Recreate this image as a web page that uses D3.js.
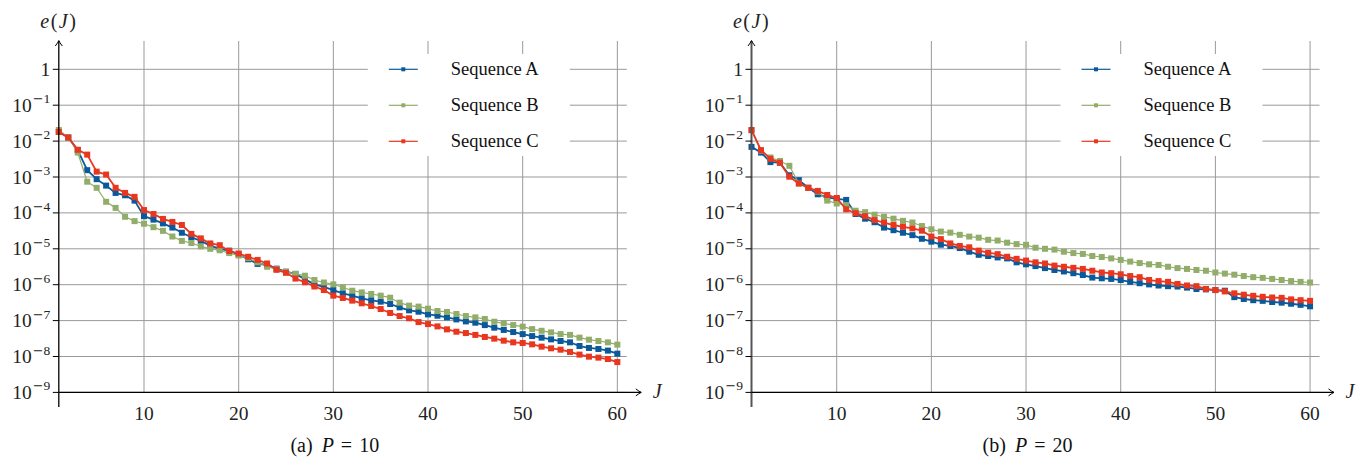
<!DOCTYPE html>
<html>
<head>
<meta charset="utf-8">
<script src="https://cdn.jsdelivr.net/npm/d3@7"></script>
<style>
  html, body { margin: 0; padding: 0; background: #fff; }
  svg { display: block; }
</style>
</head>
<body>
<svg id="chart" width="1365" height="459"></svg>
<script>
// ---------------- data ----------------
const xTicks = [10, 20, 30, 40, 50, 60];
const yTickExps = [0, -1, -2, -3, -4, -5, -6, -7, -8, -9];
const seriesNames = ["Sequence A", "Sequence B", "Sequence C"];
const seriesColors = ["#0a5a9b", "#92ad6a", "#e8361f"];
const captions = [["(a)", "P", "=", "10"], ["(b)", "P", "=", "20"]];

// P = 10
const leftA = [1.8e-2, 1.26e-2, 5.6e-3, 1.55e-3, 8.7e-4, 5.75e-4, 3.6e-4, 3.1e-4, 2.2e-4, 8.1e-5,
  6.5e-5, 5.1e-5, 3.9e-5, 2.8e-5, 2.1e-5, 1.66e-5, 1.23e-5, 1.0e-5, 8.9e-6, 6.9e-6,
  5.1e-6, 3.8e-6, 3.6e-6, 2.8e-6, 2.3e-6, 2.0e-6, 1.41e-6, 1.02e-6, 8.7e-7, 7.1e-7,
  5.75e-7, 4.95e-7, 4.17e-7, 3.67e-7, 3.37e-7, 2.9e-7, 2.34e-7, 1.93e-7, 1.77e-7, 1.49e-7,
  1.37e-7, 1.23e-7, 1.08e-7, 9.5e-8, 8.75e-8, 7.5e-8, 6.35e-8, 5.5e-8, 4.8e-8, 4.2e-8,
  3.7e-8, 3.35e-8, 3.0e-8, 2.7e-8, 2.48e-8, 1.96e-8, 1.73e-8, 1.62e-8, 1.46e-8, 1.2e-8];
const leftB = [2.04e-2, 1.26e-2, 4.8e-3, 7.4e-4, 5.0e-4, 2.04e-4, 1.38e-4, 7.8e-5, 5.9e-5, 5.0e-5,
  4.0e-5, 3.16e-5, 2.2e-5, 1.66e-5, 1.45e-5, 1.17e-5, 1.0e-5, 9.1e-6, 7.6e-6, 6.5e-6,
  5.5e-6, 4.2e-6, 3.16e-6, 2.7e-6, 2.3e-6, 2.0e-6, 1.78e-6, 1.35e-6, 1.15e-6, 1.02e-6,
  8.5e-7, 6.8e-7, 6.1e-7, 5.5e-7, 4.95e-7, 4.35e-7, 3.16e-7, 2.61e-7, 2.45e-7, 2.15e-7,
  1.85e-7, 1.74e-7, 1.53e-7, 1.34e-7, 1.23e-7, 1.11e-7, 9.3e-8, 8.4e-8, 7.5e-8, 6.8e-8,
  5.8e-8, 5.2e-8, 4.7e-8, 4.2e-8, 4.0e-8, 3.35e-8, 2.94e-8, 2.7e-8, 2.48e-8, 2.14e-8];
const leftC = [1.8e-2, 1.26e-2, 5.75e-3, 4.2e-3, 1.41e-3, 1.17e-3, 5.0e-4, 3.6e-4, 2.8e-4, 1.2e-4,
  9.3e-5, 6.8e-5, 5.6e-5, 4.6e-5, 2.6e-5, 1.95e-5, 1.41e-5, 1.26e-5, 8.7e-6, 7.4e-6,
  6.0e-6, 4.9e-6, 3.9e-6, 2.6e-6, 2.14e-6, 1.48e-6, 1.17e-6, 8.9e-7, 7.1e-7, 4.95e-7,
  4.27e-7, 3.6e-7, 3.03e-7, 2.55e-7, 2.1e-7, 1.63e-7, 1.34e-7, 1.16e-7, 9.1e-8, 8.0e-8,
  6.9e-8, 5.7e-8, 4.9e-8, 4.5e-8, 4.0e-8, 3.5e-8, 3.14e-8, 2.76e-8, 2.48e-8, 2.38e-8,
  2.18e-8, 1.88e-8, 1.69e-8, 1.55e-8, 1.34e-8, 1.13e-8, 9.9e-9, 9.3e-9, 8.5e-9, 7.0e-9];

// P = 20
const rightA = [6.9e-3, 4.8e-3, 2.6e-3, 2.5e-3, 1.12e-3, 8.2e-4, 5.0e-4, 3.3e-4, 2.7e-4, 2.46e-4,
  2.3e-4, 9.3e-5, 6.9e-5, 5.5e-5, 3.9e-5, 3.3e-5, 2.8e-5, 2.4e-5, 1.9e-5, 1.58e-5,
  1.3e-5, 1.2e-5, 1.05e-5, 8.3e-6, 6.8e-6, 6.3e-6, 5.75e-6, 5.4e-6, 4.2e-6, 3.7e-6,
  3.3e-6, 2.9e-6, 2.57e-6, 2.34e-6, 2.09e-6, 1.86e-6, 1.58e-6, 1.51e-6, 1.45e-6, 1.35e-6,
  1.2e-6, 1.1e-6, 1.02e-6, 9.5e-7, 9.1e-7, 8.9e-7, 8.3e-7, 7.6e-7, 7.4e-7, 7.1e-7,
  6.8e-7, 4.5e-7, 4.0e-7, 3.7e-7, 3.55e-7, 3.3e-7, 3.16e-7, 2.95e-7, 2.75e-7, 2.5e-7];
const rightB = [2.0e-2, 5.4e-3, 3.5e-3, 2.8e-3, 2.05e-3, 6.6e-4, 5.0e-4, 3.9e-4, 2.2e-4, 1.83e-4,
  1.65e-4, 1.15e-4, 1.05e-4, 8.9e-5, 7.8e-5, 6.9e-5, 6.0e-5, 5.4e-5, 4.3e-5, 3.5e-5,
  3.02e-5, 2.82e-5, 2.45e-5, 2.19e-5, 2.04e-5, 1.78e-5, 1.70e-5, 1.48e-5, 1.35e-5, 1.29e-5,
  1.07e-5, 1.0e-5, 9.5e-6, 8.3e-6, 7.6e-6, 7.2e-6, 6.3e-6, 5.9e-6, 5.4e-6, 4.9e-6,
  4.4e-6, 4.0e-6, 3.7e-6, 3.55e-6, 3.16e-6, 2.9e-6, 2.75e-6, 2.57e-6, 2.45e-6, 2.19e-6,
  2.04e-6, 1.9e-6, 1.74e-6, 1.62e-6, 1.55e-6, 1.45e-6, 1.35e-6, 1.26e-6, 1.2e-6, 1.15e-6];
const rightC = [2.04e-2, 5.6e-3, 3.2e-3, 2.5e-3, 1.02e-3, 6.6e-4, 5.0e-4, 4.1e-4, 3.16e-4, 2.6e-4,
  1.26e-4, 9.8e-5, 8.1e-5, 6.3e-5, 5.4e-5, 4.6e-5, 4.1e-5, 3.7e-5, 3.2e-5, 2.2e-5,
  1.86e-5, 1.41e-5, 1.2e-5, 1.1e-5, 8.9e-6, 7.8e-6, 7.1e-6, 6.0e-6, 5.25e-6, 4.7e-6,
  4.2e-6, 3.9e-6, 3.4e-6, 3.16e-6, 2.95e-6, 2.75e-6, 2.45e-6, 2.19e-6, 2.09e-6, 1.95e-6,
  1.74e-6, 1.62e-6, 1.35e-6, 1.26e-6, 1.2e-6, 1.05e-6, 9.5e-7, 9.1e-7, 7.6e-7, 7.1e-7,
  6.5e-7, 5.75e-7, 5.25e-7, 4.9e-7, 4.6e-7, 4.4e-7, 4.3e-7, 3.9e-7, 3.7e-7, 3.55e-7];

// ---------------- drawing ----------------
const svg = d3.select("#chart");
const SERIF = "'Liberation Serif', 'Times New Roman', serif";
const panels = [
  { x0: 58.8, series: [leftA, leftB, leftC], caption: captions[0], yAxisColor: "#000", yAxisWidth: 1.3 },
  { x0: 751.5, series: [rightA, rightB, rightC], caption: captions[1], yAxisColor: "#555", yAxisWidth: 2 }
];
const unit = 9.467;
const gridTop = 41;

panels.forEach(p => {
  const g = svg.append("g");
  const x = d3.scaleLinear().domain([1, 61]).range([p.x0, p.x0 + 60 * unit]);
  const y = d3.scaleLog().domain([1e-9, 1]).range([392.4, 69.3]);
  const yBottom = y(1e-9);
  const xRight = x(61);

  // grid
  const grid = g.append("g").attr("stroke", "#999").attr("stroke-width", 1).attr("fill", "none");
  yTickExps.forEach(e => {
    grid.append("line").attr("x1", x(1)).attr("x2", xRight)
      .attr("y1", y(Math.pow(10, e))).attr("y2", y(Math.pow(10, e)));
  });
  xTicks.forEach(t => {
    grid.append("line").attr("x1", x(t)).attr("x2", x(t)).attr("y1", gridTop).attr("y2", yBottom);
  });

  // series
  const line = d3.line().x((d, i) => x(i + 1)).y(d => y(d));
  p.series.forEach((vals, si) => {
    const col = seriesColors[si];
    const sg = g.append("g");
    sg.append("path").datum(vals).attr("d", line).attr("fill", "none")
      .attr("stroke", col).attr("stroke-width", si === 1 ? 1.2 : 1.8).attr("stroke-linejoin", "round");
    sg.selectAll("rect").data(vals).enter().append("rect")
      .attr("x", (d, i) => x(i + 1) - 3).attr("y", d => y(d) - 3)
      .attr("width", 6).attr("height", 6).attr("fill", col);
  });

  // legend
  const lx = p.x0;
  g.append("rect").attr("x", lx + 309).attr("y", 54).attr("width", 202).attr("height", 102).attr("fill", "#fff");
  seriesNames.forEach((name, i) => {
    const ly = 69.3 + i * 36;
    g.append("line").attr("x1", lx + 330).attr("x2", lx + 359).attr("y1", ly).attr("y2", ly)
      .attr("stroke", seriesColors[i]).attr("stroke-width", 1.2);
    g.append("rect").attr("x", lx + 344.5 - 2).attr("y", ly - 2).attr("width", 4).attr("height", 4)
      .attr("fill", seriesColors[i]);
    g.append("text").attr("x", lx + 392).attr("y", ly + 5.5).attr("font-family", SERIF)
      .attr("font-size", "18.5px").attr("fill", "#111").text(name);
  });

  // axes
  const ax = g.append("g").attr("fill", "none");
  ax.append("line").attr("x1", p.x0).attr("x2", p.x0).attr("y1", 407).attr("y2", gridTop)
    .attr("stroke", p.yAxisColor).attr("stroke-width", p.yAxisWidth);
  ax.append("path").attr("d", `M${p.x0 - 3.5},${gridTop + 5} Q${p.x0 - 0.8},${gridTop + 1.5} ${p.x0},${gridTop - 0.5} Q${p.x0 + 0.8},${gridTop + 1.5} ${p.x0 + 3.5},${gridTop + 5}`)
    .attr("stroke", "#000").attr("stroke-width", 1);
  const axEnd = xRight + 14;
  ax.append("line").attr("x1", p.x0).attr("x2", axEnd).attr("y1", yBottom).attr("y2", yBottom)
    .attr("stroke", "#000").attr("stroke-width", 1.2);
  ax.append("path").attr("d", `M${axEnd - 5},${yBottom - 3.5} Q${axEnd - 1.5},${yBottom - 0.8} ${axEnd + 0.5},${yBottom} Q${axEnd - 1.5},${yBottom + 0.8} ${axEnd - 5},${yBottom + 3.5}`)
    .attr("stroke", "#000").attr("stroke-width", 1);

  // y ticks + labels
  yTickExps.forEach(e => {
    const yy = y(Math.pow(10, e));
    ax.append("line").attr("x1", p.x0 - 6).attr("x2", p.x0).attr("y1", yy).attr("y2", yy)
      .attr("stroke", "#000").attr("stroke-width", 1);
    const t = g.append("text").attr("x", p.x0 - 8.5).attr("y", yy + 6.5).attr("text-anchor", "end")
      .attr("font-family", SERIF).attr("font-size", "19.5px").attr("fill", "#222");
    if (e === 0) {
      t.text("1");
    } else {
      t.append("tspan").text("10");
      t.append("tspan").attr("dy", -8.5).attr("dx", 1).attr("font-family", "'DejaVu Serif', serif")
        .attr("font-size", "13px").text("\u2212");
      t.append("tspan").attr("font-size", "13.5px").text(String(-e));
    }
  });

  // x tick labels
  xTicks.forEach(tk => {
    g.append("text").attr("x", x(tk)).attr("y", 420).attr("text-anchor", "middle")
      .attr("font-family", SERIF).attr("font-size", "19.5px").attr("fill", "#222").text(tk);
  });

  // axis labels
  const yl = g.append("text").attr("x", p.x0).attr("y", 28).attr("text-anchor", "middle")
    .attr("font-family", SERIF).attr("font-size", "20px").attr("letter-spacing", "1.5px").attr("fill", "#222");
  yl.append("tspan").attr("font-style", "italic").text("e");
  yl.append("tspan").text("(");
  yl.append("tspan").attr("font-style", "italic").text("J");
  yl.append("tspan").text(")");
  g.append("text").attr("x", axEnd + 12).attr("y", yBottom + 6).attr("font-family", SERIF)
    .attr("font-style", "italic").attr("font-size", "20px").attr("fill", "#222").text("J");

  // caption
  const cap = g.append("text").attr("x", p.x0 + 276).attr("y", 452).attr("text-anchor", "middle")
    .attr("font-family", SERIF).attr("font-size", "20px").attr("fill", "#111");
  cap.append("tspan").text(p.caption[0]);
  cap.append("tspan").attr("dx", 9).attr("font-style", "italic").text(p.caption[1]);
  cap.append("tspan").attr("dx", 7).text(p.caption[2]);
  cap.append("tspan").attr("dx", 7).text(p.caption[3]);
});
</script>
</body>
</html>
